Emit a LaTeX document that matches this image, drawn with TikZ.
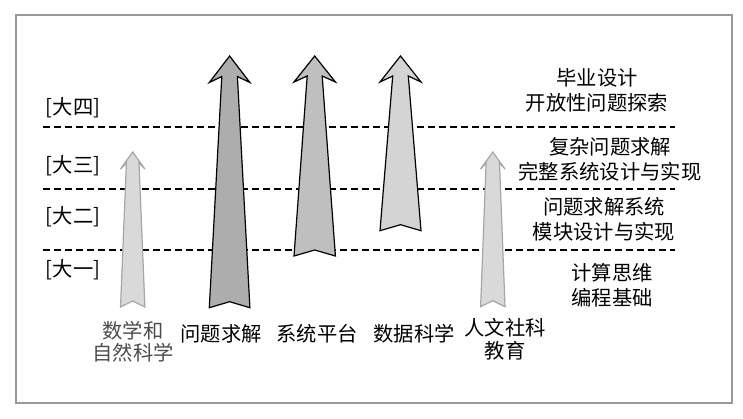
\documentclass[tikz,border=0pt]{standalone}
\usepackage{fontspec}
\setmainfont{Noto Sans CJK SC}
\begin{document}
\begin{tikzpicture}[x=1pt,y=-1pt,
  frame/.style={draw=black!40,line width=1.8pt},
  lvl/.style={dashed,line width=1.2pt,dash pattern=on 7pt off 4pt},
  darkarr/.style={fill=black!32,draw=black,line width=1.2pt,line join=miter},
  midarr/.style={fill=black!25,draw=black,line width=1.2pt,line join=miter},
  lightdarr/.style={fill=black!17,draw=black,line width=1.2pt,line join=miter},
  palearr/.style={fill=black!15,draw=black!35,line width=1.2pt,line join=miter},
  lbl/.style={font=\fontsize{20.3}{25}\selectfont,align=center,inner sep=0pt},
  lblg/.style={lbl,text=black!70}]
\useasboundingbox (0,0) rectangle (743,418);
\node[frame,minimum width=716pt,minimum height=388pt,inner sep=0pt] (box) at (374,209) {};
% level lines
\coordinate (l1a) at (43,127); \coordinate (l1b) at (675,127);
\coordinate (l2a) at (43,189); \coordinate (l2b) at (675,189);
\coordinate (l3a) at (43,250); \coordinate (l3b) at (675,250);
\draw[lvl] (l1a) -- (l1b);
\draw[lvl] (l2a) -- (l2b);
\draw[lvl] (l3a) -- (l3b);
% arrows: style, cx, tip, head-corner y, half head width, half shaft width, bottom y
\newcommand{\myarrow}[7]{\draw[#1] (#2,#3) -- ({#2+#5},#4) -- ({#2+#6},{#4-6}) -- ({#2+#5},#7) -- (#2,{#7-6}) -- ({#2-#5},#7) -- ({#2-#6},{#4-6}) -- ({#2-#5},#4) -- cycle;}
\myarrow{palearr}{132.7}{152}{169}{12.2}{6.3}{307}
\myarrow{darkarr}{229.6}{56}{82.5}{20.3}{7.8}{307.7}
\myarrow{midarr}{314.7}{56}{82}{20.7}{7.5}{256}
\myarrow{lightdarr}{400.5}{56}{82}{20.5}{7.8}{230.7}
\myarrow{palearr}{492.8}{152}{169}{12.2}{6.7}{306.7}
% year labels
\node[lbl] (y4) at (73,108) {[大四]};
\node[lbl] (y3) at (73,166) {[大三]};
\node[lbl] (y2) at (73,217) {[大二]};
\node[lbl] (y1) at (73,270) {[大一]};
% right labels
\node[lbl] (r4) at (597,90.5) {毕业设计\\开放性问题探索};
\node[lbl] (r3) at (610,159) {复杂问题求解\\完整系统设计与实现};
\node[lbl] (r2) at (604,219) {问题求解系统\\模块设计与实现};
\node[lbl] (r1) at (612,285) {计算思维\\编程基础};
% bottom labels
\node[lblg,font=\fontsize{20.3}{22}\selectfont] (b1) at (133,342) {数学和\\自然科学};
\node[lbl] (b2) at (221,334) {问题求解};
\node[lbl] (b3) at (317,334) {系统平台};
\node[lbl] (b4) at (414,334) {数据科学};
\node[lbl,font=\fontsize{20.3}{23}\selectfont] (b5) at (505,339.5) {人文社科\\教育};
\end{tikzpicture}
\end{document}
